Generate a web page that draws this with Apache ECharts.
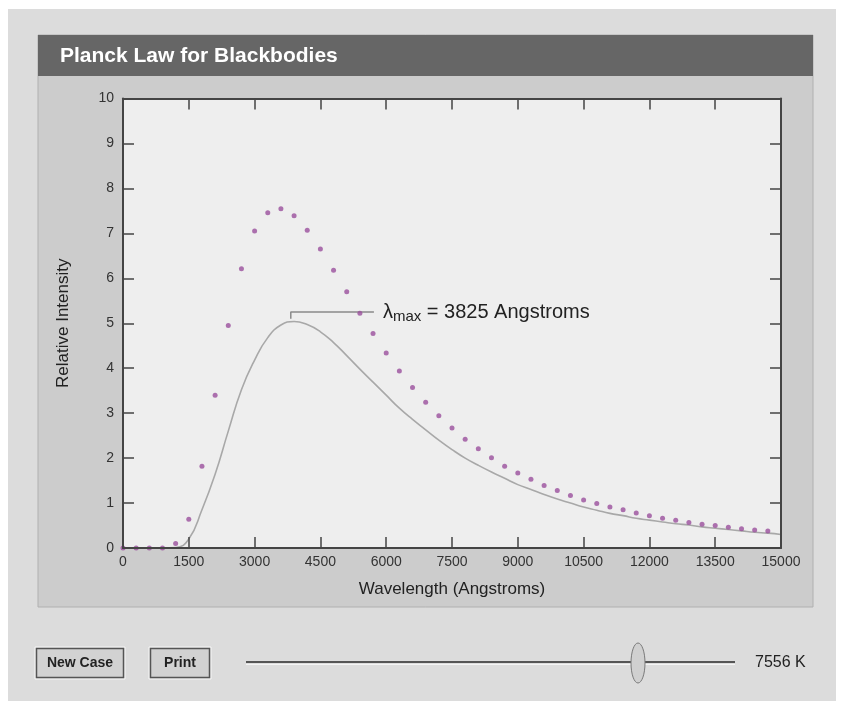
<!DOCTYPE html>
<html>
<head>
<meta charset="utf-8">
<title>Planck Law for Blackbodies</title>
<script src="https://cdn.jsdelivr.net/npm/echarts@6/dist/echarts.min.js"></script>
<style>
  html, body { margin: 0; padding: 0; background: #ffffff; }
  #chart { width: 846px; height: 702px; }
</style>
</head>
<body>
<div id="chart"></div>
<script>
// Sampled blackbody intensities (purple dots), wavelength in Angstroms
const sampleWavelengths = [0, 300, 600, 900, 1200, 1500, 1800, 2100, 2400, 2700,
  3000, 3300, 3600, 3900, 4200, 4500, 4800, 5100, 5400, 5700,
  6000, 6300, 6600, 6900, 7200, 7500, 7800, 8100, 8400, 8700,
  9000, 9300, 9600, 9900, 10200, 10500, 10800, 11100, 11400, 11700,
  12000, 12300, 12600, 12900, 13200, 13500, 13800, 14100, 14400, 14700];
const sampleIntensities = [0, 0, 0, 0, 0.10, 0.64, 1.82, 3.40, 4.95, 6.21,
  7.05, 7.46, 7.55, 7.39, 7.07, 6.65, 6.18, 5.70, 5.22, 4.77,
  4.34, 3.94, 3.57, 3.24, 2.94, 2.67, 2.42, 2.21, 2.01, 1.82,
  1.67, 1.53, 1.39, 1.28, 1.17, 1.07, 0.99, 0.91, 0.85, 0.78,
  0.72, 0.66, 0.62, 0.57, 0.53, 0.50, 0.46, 0.43, 0.40, 0.38];

// Reference curve (gray line), evenly spaced every 300 Angstroms
const curveWavelengths = [900, 1200, 1500, 1800, 2100, 2400, 2700, 3000, 3300, 3600,
  3900, 4200, 4500, 4800, 5100, 5400, 5700, 6000, 6300, 6600,
  6900, 7200, 7500, 7800, 8100, 8400, 8700, 9000, 9300, 9600,
  9900, 10200, 10500, 10800, 11100, 11400, 11700, 12000, 12300, 12600,
  12900, 13200, 13500, 13800, 14100, 14400, 14700, 15000];
const curveIntensities = [0, 0.01, 0.20, 0.85, 1.64, 2.60, 3.52, 4.18, 4.68, 4.96,
  5.04, 4.97, 4.81, 4.57, 4.28, 3.98, 3.69, 3.40, 3.11, 2.86,
  2.63, 2.40, 2.19, 2.00, 1.84, 1.69, 1.55, 1.41, 1.30, 1.19,
  1.09, 1.00, 0.91, 0.84, 0.77, 0.72, 0.66, 0.62, 0.58, 0.54,
  0.51, 0.47, 0.44, 0.41, 0.38, 0.35, 0.33, 0.30];

// Peak annotation
const peakWavelength = 3825;
const bracketWavelengths = [3825, 3825, 5720];
const bracketIntensities = [5.10, 5.25, 5.25];

// Axis ticks
const xTicks = [0, 1500, 3000, 4500, 6000, 7500, 9000, 10500, 12000, 13500, 15000];
const yTicks = [0, 1, 2, 3, 4, 5, 6, 7, 8, 9, 10];

const temperatureK = 7556;

const FONT = "'Liberation Sans', Arial, Helvetica, sans-serif";

const zip = (xs, ys) => xs.map((x, i) => [x, ys[i]]);

const axisLineStyle = { color: '#444', width: 2 };
const tickStyle = { show: true, inside: true, length: 11, lineStyle: { color: '#444', width: 1.5 } };
const plainNumber = (v) => String(v);

const chart = echarts.init(document.getElementById('chart'), null, { renderer: 'canvas' });

const option = {
  animation: false,
  backgroundColor: '#ffffff',
  textStyle: { fontFamily: FONT },
  grid: {
    left: 123, right: 65, top: 98.5, bottom: 154,
    show: true, backgroundColor: '#eeeeee', borderWidth: 0
  },
  xAxis: [{
    type: 'value', min: xTicks[0], max: xTicks[xTicks.length - 1], interval: xTicks[1] - xTicks[0],
    position: 'bottom', z: 5,
    name: 'Wavelength (Angstroms)', nameLocation: 'middle', nameGap: 33,
    nameTextStyle: { fontSize: 17, color: '#222', fontFamily: FONT },
    axisLine: { show: true, onZero: false, lineStyle: axisLineStyle },
    axisTick: tickStyle,
    axisLabel: { fontSize: 14, color: '#333', margin: 7, fontFamily: FONT, formatter: plainNumber },
    splitLine: { show: false }
  }, {
    type: 'value', min: xTicks[0], max: xTicks[xTicks.length - 1], interval: xTicks[1] - xTicks[0],
    position: 'top', z: 5,
    axisLine: { show: true, onZero: false, lineStyle: axisLineStyle },
    axisTick: tickStyle,
    axisLabel: { show: false },
    splitLine: { show: false }
  }],
  yAxis: [{
    type: 'value', min: yTicks[0], max: yTicks[yTicks.length - 1], interval: yTicks[1] - yTicks[0],
    position: 'left', z: 5,
    name: 'Relative Intensity', nameLocation: 'middle', nameGap: 51,
    nameTextStyle: { fontSize: 17, color: '#222', fontFamily: FONT },
    axisLine: { show: true, onZero: false, lineStyle: axisLineStyle },
    axisTick: tickStyle,
    axisLabel: { fontSize: 14, color: '#333', margin: 9, fontFamily: FONT, formatter: plainNumber },
    splitLine: { show: false }
  }, {
    type: 'value', min: yTicks[0], max: yTicks[yTicks.length - 1], interval: yTicks[1] - yTicks[0],
    position: 'right', z: 5,
    axisLine: { show: true, onZero: false, lineStyle: axisLineStyle },
    axisTick: tickStyle,
    axisLabel: { show: false },
    splitLine: { show: false }
  }],
  series: [{
    name: 'curve',
    type: 'line',
    data: zip(curveWavelengths, curveIntensities),
    smooth: 0.5,
    symbol: 'none',
    lineStyle: { color: '#a8a8a8', width: 1.6 },
    z: 3
  }, {
    name: 'samples',
    type: 'scatter',
    data: zip(sampleWavelengths, sampleIntensities),
    symbol: 'circle',
    symbolSize: 5,
    itemStyle: { color: '#9a4f9c' },
    z: 4
  }, {
    name: 'peak',
    type: 'line',
    data: zip(bracketWavelengths, bracketIntensities),
    symbol: 'none',
    lineStyle: { color: '#8a8a8a', width: 1.5 },
    endLabel: {
      show: true,
      distance: 9,
      formatter: '{l|λ}{s|max}{t| = ' + peakWavelength + ' Angstroms}',
      rich: {
        l: { fontSize: 20, color: '#222', fontFamily: FONT },
        s: { fontSize: 15, color: '#222', fontFamily: FONT, padding: [9, 0, 0, 0] },
        t: { fontSize: 20, color: '#222', fontFamily: FONT }
      }
    },
    z: 3
  }],
  graphic: [
    // page and panel backgrounds
    { type: 'rect', z: -100, silent: true, shape: { x: 8, y: 9, width: 828, height: 692 }, style: { fill: '#dcdcdc' } },
    { type: 'rect', z: -90, silent: true, shape: { x: 38, y: 35, width: 775, height: 572 }, style: { fill: '#cccccc', stroke: '#b0b0b0', lineWidth: 1 } },
    { type: 'rect', z: -80, silent: true, shape: { x: 38, y: 35, width: 775, height: 41 }, style: { fill: '#666666' } },
    { type: 'text', z: 10, silent: true, x: 60, y: 56,
      style: { text: 'Planck Law for Blackbodies', fill: '#ffffff', font: 'bold 21px ' + FONT, verticalAlign: 'middle' } },

    // buttons
    { type: 'rect', z: 10, silent: true, shape: { x: 35, y: 647, width: 90, height: 32 }, style: { fill: 'none', stroke: '#f6f6f6', lineWidth: 1 } },
    { type: 'rect', z: 10, silent: true, shape: { x: 36.5, y: 648.5, width: 87, height: 29 }, style: { fill: '#d2d2d2', stroke: '#555555', lineWidth: 1.5 } },
    { type: 'text', z: 11, silent: true, x: 80, y: 663,
      style: { text: 'New Case', fill: '#222', font: 'bold 14px ' + FONT, align: 'center', verticalAlign: 'middle' } },
    { type: 'rect', z: 10, silent: true, shape: { x: 149, y: 647, width: 62, height: 32 }, style: { fill: 'none', stroke: '#f6f6f6', lineWidth: 1 } },
    { type: 'rect', z: 10, silent: true, shape: { x: 150.5, y: 648.5, width: 59, height: 29 }, style: { fill: '#d2d2d2', stroke: '#555555', lineWidth: 1.5 } },
    { type: 'text', z: 11, silent: true, x: 180, y: 663,
      style: { text: 'Print', fill: '#222', font: 'bold 14px ' + FONT, align: 'center', verticalAlign: 'middle' } },

    // temperature slider
    { type: 'line', z: 10, silent: true, shape: { x1: 246, y1: 662, x2: 735, y2: 662 }, style: { stroke: '#555555', lineWidth: 2 } },
    { type: 'line', z: 10, silent: true, shape: { x1: 246, y1: 664.5, x2: 735, y2: 664.5 }, style: { stroke: '#f4f4f4', lineWidth: 1 } },
    { type: 'ellipse', z: 11, silent: true, shape: { cx: 638, cy: 663, rx: 7, ry: 20 }, style: { fill: '#d0d0d0', stroke: '#7a7a7a', lineWidth: 1 } },
    { type: 'text', z: 11, silent: true, x: 755, y: 663,
      style: { text: temperatureK + ' K', fill: '#222', font: '16px ' + FONT, verticalAlign: 'middle' } }
  ]
};

chart.setOption(option);
</script>
</body>
</html>
